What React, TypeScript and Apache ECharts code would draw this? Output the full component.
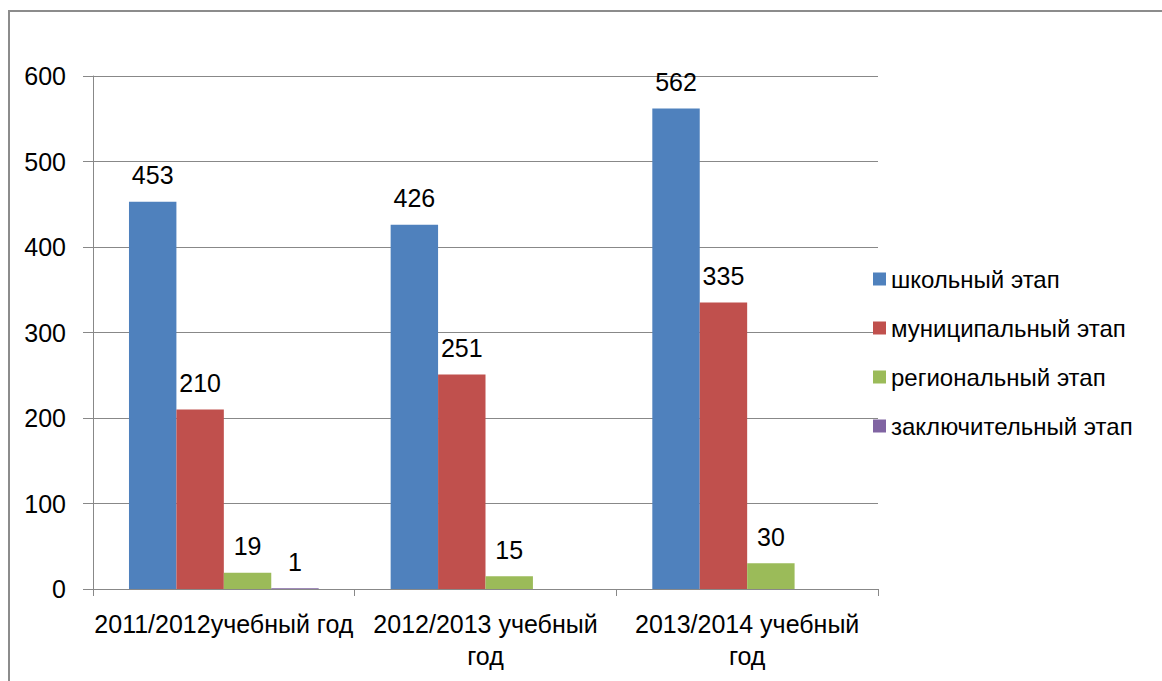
import React, { useEffect, useRef } from "react";
import * as echarts from "echarts";

const categories = ["2011/2012учебный год", "2012/2013 учебный\nгод", "2013/2014 учебный\nгод"];
const seriesNames = ["школьный этап", "муниципальный этап", "региональный этап", "заключительный этап"];
const school = [453, 426, 562];
const municipal = [210, 251, 335];
const regional = [19, 15, 30];
const final = [1, null, null];
const colors = ["#4F81BD", "#C0504D", "#9BBB59", "#8064A2"];

const FONT = "'Liberation Sans', 'DejaVu Sans', sans-serif";

export default function App() {
  const ref = useRef<HTMLDivElement>(null);
  useEffect(() => {
    if (!ref.current) return;
    const chart = echarts.init(ref.current, undefined, { renderer: "svg" });
    const values = [school, municipal, regional, final];
    chart.setOption({
      animation: false,
      backgroundColor: "#fff",
      graphic: [
        {
          type: "rect",
          shape: { x: 9, y: 11, width: 1200, height: 800 },
          style: { fill: "none", stroke: "#8c8c8c", lineWidth: 2 },
          silent: true,
        },
      ],
      grid: { left: 93, right: 284, top: 76, bottom: 92 },
      legend: {
        orient: "vertical",
        left: 868,
        top: 262,
        itemWidth: 13,
        itemHeight: 13,
        itemGap: 25,
        icon: "rect",
        textStyle: { fontSize: 24, color: "#000", fontFamily: FONT },
        data: seriesNames,
      },
      xAxis: {
        type: "category",
        data: categories,
        axisLine: { lineStyle: { color: "#888" } },
        axisTick: { show: true, alignWithLabel: false, length: 7, lineStyle: { color: "#888" } },
        axisLabel: { fontSize: 25, color: "#000", fontFamily: FONT, margin: 19, lineHeight: 32, interval: 0 },
      },
      yAxis: {
        type: "value",
        min: 0,
        max: 600,
        interval: 100,
        axisLine: { show: true, lineStyle: { color: "#888" } },
        axisTick: { show: true, length: 10, lineStyle: { color: "#888" } },
        splitLine: { lineStyle: { color: "#888" } },
        axisLabel: { fontSize: 25, color: "#000", fontFamily: FONT, margin: 27 },
      },
      series: seriesNames.map((name, i) => ({
        name,
        type: "bar",
        data: values[i],
        barGap: "0%",
        barCategoryGap: "27.5%",
        itemStyle: { color: colors[i] },
        label: {
          show: true,
          position: "top",
          distance: 14,
          fontSize: 25,
          color: "#000",
          fontFamily: FONT,
        },
      })),
    });
    return () => chart.dispose();
  }, []);
  return (
    <div
      ref={ref}
      style={{ position: "absolute", left: 0, top: 0, width: 1162, height: 681 }}
    />
  );
}
